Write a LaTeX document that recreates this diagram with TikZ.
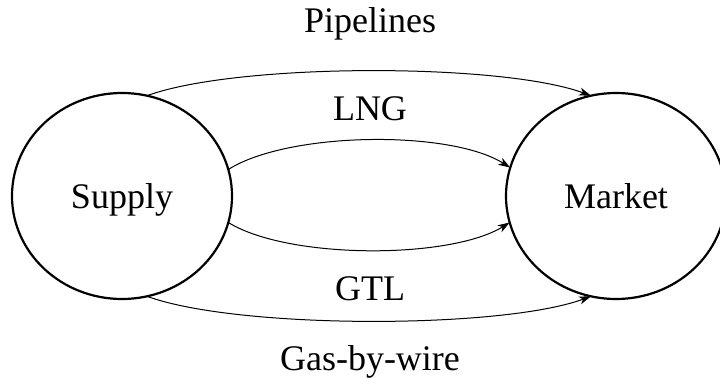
\documentclass[tikz,border=0pt]{standalone}
\usepackage{fontspec}
\setmainfont{Liberation Serif}
\usetikzlibrary{arrows.meta,shapes.geometric}
\begin{document}
\begin{tikzpicture}[x=1pt,y=-1pt,
  blob/.style={ellipse,draw,line width=2.2pt,minimum width=220pt,minimum height=206pt,inner sep=0pt,outer sep=0pt,text height=24pt,text depth=0pt,font=\fontsize{36}{40}\selectfont},
  lbl/.style={font=\fontsize{36}{40}\selectfont,inner sep=0pt,anchor=base},
  arr/.style={line width=1pt,-{Stealth[length=12pt,width=8pt,inset=3.5pt]}}]
\useasboundingbox (0,0) rectangle (720,385);
\node[blob] (sup) at (122,196) {Supply};
\node[blob] (mkt) at (616,196) {Market};
\node[lbl] (pip) at (370,33) {Pipelines};
\node[lbl] (lng) at (370,121) {LNG};
\node[lbl] (gtl) at (370,300) {GTL};
\node[lbl] (gbw) at (370,370) {Gas-by-wire};
\draw[arr] (sup.76) .. controls +(90,-33) and +(-90,-33) .. (mkt.104);
\draw[arr] (sup.14) .. controls +(60,-38) and +(-60,-38) .. (mkt.165.5);
\draw[arr] (sup.-14) .. controls +(60,37) and +(-60,37) .. (mkt.194.5);
\draw[arr] (sup.-76) .. controls +(90,33) and +(-90,33) .. (mkt.256);
\end{tikzpicture}
\end{document}
